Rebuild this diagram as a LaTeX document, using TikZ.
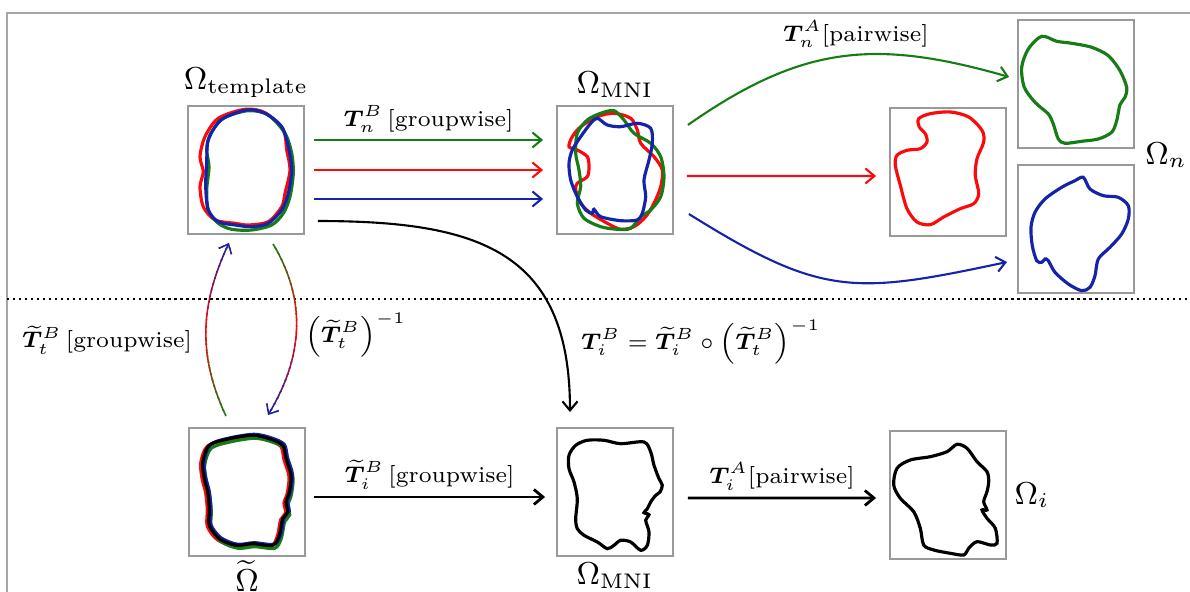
\documentclass[tikz,border=0pt]{standalone}
\usepackage{amsmath}
\usepackage{bm}
\usetikzlibrary{positioning, arrows.meta}
\definecolor{cgreen}{RGB}{22,125,22}
\definecolor{cred}{RGB}{250,10,10}
\definecolor{cblue}{RGB}{20,35,170}

\begin{document}
\begin{tikzpicture}[x=0.01cm, y=-0.01cm,
		box/.style = {rectangle, draw=gray!80, line width=0.5pt, minimum width=1.16cm, minimum height=1.28cm, inner sep=0pt},
		arr/.style = {-{Straight Barb[length=0.9mm, width=1.5mm]}, line width=0.6pt},
		karr/.style = {-{Straight Barb[length=0.9mm, width=1.5mm]}, line width=0.8pt},
		thin arr/.style = {-{Straight Barb[length=0.8mm, width=1.4mm]}, line width=0.45pt},
		shp/.style = {line width=0.9pt},
		om/.style = {font=\small},
		lab/.style = {font=\scriptsize, text=black, inner sep=2pt, scale=0.92, transform shape}
		]
		
		\useasboundingbox (0,0) rectangle (1190,592);
		
		%Frame
		\draw[gray!70, line width=0.6pt]	(7,592) |- (1190,13);
		\draw[densely dotted, line width=0.7pt]	(7,299) -- (1190,299);
		
		%Nodes
		\node[box]	(tmpl)	at	(246,170)	{};
		\node[box]	(mniT)	at	(615,170)	{};
		\node[box]	(outR)	at	(948,172)	{};
		\node[box]	(outG)	at	(1076,84)	{};
		\node[box]	(outB)	at	(1076,229)	{};
		\node[box]	(tmplT)	at	(247,492)	{};
		\node[box]	(mniB)	at	(615,492)	{};
		\node[box]	(outI)	at	(948,495)	{};
		
		%Labels
		\node[om, above=0pt of tmpl, inner sep=2pt]		(lTmpl)		{$\Omega_{\mathrm{template}}$};
		\node[om, above=0pt of mniT, inner sep=2pt]		(lMniT)		{$\Omega_{\mathrm{MNI}}$};
		\node[om]										(lOmN)	at	(1166,155)	{$\Omega_n$};
		\node[om, below=0pt of tmplT, inner sep=1pt]	(lTilde)	{$\widetilde{\Omega}$};
		\node[om, below=0pt of mniB, inner sep=1.5pt]	(lMniB)		{$\Omega_{\mathrm{MNI}}$};
		\node[om, right=0pt of outI, inner sep=2pt]		(lOmI)		{$\Omega_i$};
		\node[lab, anchor=east]	(lTt)		at	(199,340)	{$\widetilde{\bm T}_t^B\,$[groupwise]};
		\node[lab, anchor=west]	(lTtInv)	at	(298,335)	{$\left(\widetilde{\bm T}_t^B\right)^{-1}$};
		\node[lab, anchor=west]	(lTi)		at	(574,342)	{$\bm T_i^B=\widetilde{\bm T}_i^B\circ\left(\widetilde{\bm T}_t^B\right)^{-1}$};
		
		%Shapes
		\begin{scope}[shift={(tmpl.center)}]
			\draw[shp, cred]	plot[smooth cycle] coordinates {(-1,-60.7) (19,-57.3) (37.3,-40) (40.7,-20) (44,0) (39,23.3) (35.7,36.7) (22.3,51.7) (2.3,55) (-11,53.3) (-31,50) (-42.7,36.7) (-46,16.7) (-42.7,1.7) (-46,-13.3) (-41,-33.3) (-27.7,-51.7)};
			\draw[shp, cgreen]	plot[smooth cycle] coordinates {(2.3,-59.3) (22.3,-55) (39,-36.7) (45.7,-16.7) (47.3,3.3) (44,26.7) (37.3,43.3) (25.7,55) (5.7,60) (-14.3,59.3) (-27.7,53.3) (-37.7,40) (-39.3,20) (-37,-3.3) (-39.3,-20) (-36,-35) (-22.7,-51.7)};
			\draw[shp, cblue]	plot[smooth cycle] coordinates {(0.7,-60) (19,-56.7) (35.7,-43.3) (42.3,-23.3) (45.7,0) (42.3,23.3) (35.7,40) (22.3,53.3) (5.7,56.7) (-11,55) (-27.7,51.7) (-37.7,40) (-40.3,16.7) (-39.3,-6.7) (-37.7,-30) (-25,-50)};
		\end{scope}
		\begin{scope}[shift={(mniT.center)}]
			\draw[shp, cred]	plot[smooth cycle] coordinates {(-17.7,-53.3) (-1,-56.7) (15.7,-51.7) (22.3,-40) (25.7,-26.7) (39,-13.3) (47.3,0) (45.7,16.7) (39,33.3) (30.7,46.7) (19,56.7) (5.7,59.3) (-7.7,53.3) (-24.3,43.3) (-34.3,33.3) (-39.3,20) (-37.7,13.3) (-27.7,6.7) (-26,-3.3) (-27.7,-13.3) (-37.7,-20) (-46,-23.3) (-42.7,-33.3) (-34.3,-43.3)};
			\draw[shp, cgreen]	plot[smooth cycle] coordinates {(-14.3,-56.7) (-1,-59.3) (9,-50) (19,-36.7) (35.7,-26.7) (45.7,-13.3) (49,6.7) (45.7,26.7) (35.7,40) (25.7,46.7) (15.7,58.3) (2.3,59.3) (-14.3,56.7) (-31,48.3) (-37.7,33.3) (-34.3,16.7) (-36,0) (-39.3,-16.7) (-37.7,-36.7) (-27.7,-50)};
			\draw[shp, cblue]	plot[smooth cycle] coordinates {(-17.7,-51.7) (-7.7,-45) (5.7,-43.3) (22.3,-46.7) (35.7,-41.7) (37.3,-26.7) (34,-10) (29,10) (30.7,26.7) (27.3,43.3) (22.3,50) (5.7,50.7) (-14.3,46.7) (-21,39.3) (-22.7,43.3) (-29.3,40) (-37.7,26.7) (-44.3,10) (-46,-6.7) (-42.7,-20) (-34.3,-33.3) (-24.3,-46.7)};
		\end{scope}
		\begin{scope}[shift={(outR.center)}]
			\draw[shp, cred]	plot[smooth cycle] coordinates {(-29.3,-53.3) (-17.7,-58.3) (2.3,-60) (20.7,-55) (34,-41.7) (35.7,-30) (29,-13.3) (27.3,3.3) (30.7,21.7) (25.7,31.7) (12.3,36.7) (-4.3,45) (-17.7,52.7) (-31,50) (-41,36.7) (-47.7,13.3) (-52.7,-6.7) (-51,-16.7) (-41,-21.7) (-27.7,-23.3) (-21,-30) (-22.7,-38.3) (-28.7,-45)};
		\end{scope}
		\begin{scope}[shift={(outG.center)}]
			\draw[shp, cgreen]	plot[smooth cycle] coordinates {(-34.3,-47.7) (-19.3,-42.7) (-4.3,-40.7) (15.7,-36.7) (32.3,-28.3) (44,-13.3) (50.7,3.3) (49,13.3) (44,20.7) (40.7,36.7) (35.7,48.3) (22.3,55) (5.7,57.3) (-11,59.3) (-17.7,55) (-22.7,40) (-27.7,30) (-41,18.3) (-51.7,3.3) (-54.3,-16.7) (-47.7,-35)};
		\end{scope}
		\begin{scope}[shift={(outB.center)}]
			\draw[shp, cblue]	plot[smooth cycle] coordinates {(7.3,-51.7) (14,-40) (27.3,-33.3) (42.3,-31.7) (52.3,-23.3) (52.3,-10) (45.7,5) (34,18.3) (22.3,30) (19,46.7) (14,58.3) (5.7,61.7) (-7.7,55) (-21,43.3) (-27.7,31.7) (-31,30) (-34.3,33.3) (-39.3,31.7) (-43.7,16.7) (-45,-1.7) (-41,-16.7) (-31,-30) (-14.3,-41.7) (-1,-48.3)};
		\end{scope}
		\begin{scope}[shift={(tmplT.center)}]
			\foreach \col/\dx/\dy in {cred/-2/1, cgreen/2/3, cblue/1.5/-1, black/0/0}
				\draw[shp, \col, shift={(\dx,\dy)}]	plot[smooth cycle] coordinates {(-37.7,-46.7) (-17.7,-53.3) (5.7,-56.7) (22.3,-53.3) (35.7,-46.7) (39,-33.3) (44,-16.7) (42.3,0) (39,10) (40.7,20) (35.7,26.7) (32.3,43.3) (25.7,53.3) (5.7,51.7) (-11,53.3) (-27.7,46.7) (-37.7,33.3) (-37.7,16.7) (-39.3,0) (-42.7,-13.3) (-44.3,-30)};
		\end{scope}
		\begin{scope}[shift={(mniB.center)}]
			\draw[shp, black]	plot[smooth cycle] coordinates {(-27.7,-51.7) (-11,-51.7) (5.7,-48.3) (29,-50) (35.7,-40) (39,-26.7) (44,-13.3) (47.3,-6.7) (45,0) (40.7,3.3) (35.7,10) (32.3,16.7) (29,20.7) (34,22.7) (30.7,28.3) (34,40) (32.3,53.3) (25.7,58.3) (15.7,50) (5.7,48.3) (-1,53.3) (-7.7,56.7) (-17.7,50) (-31,43.3) (-37.7,36.7) (-39.3,26.7) (-37.7,6.7) (-41,-10) (-46,-23.3) (-46,-36.7) (-39.3,-46.7)};
		\end{scope}
		\begin{scope}[shift={(outI.center)}]
			\draw[shp, black]	plot[smooth cycle] coordinates {(9,-50.7) (19,-46.7) (29,-33.3) (39,-23.3) (40.7,-13.3) (39,-3.3) (35.7,6.7) (39,15) (34,15) (39,23.3) (47.3,33.3) (49,48.3) (42.3,50) (29,46.7) (20.7,53.3) (15.7,60) (2.3,58.3) (-14.3,55) (-24.3,50) (-27.7,33.3) (-34.3,16.7) (-47.7,3.3) (-54.3,-10) (-51,-26.7) (-37.7,-35) (-17.7,-38.3) (-1,-43.3)};
		\end{scope}
		
		%Lines
		\draw[arr, cgreen]	([xshift=0.9mm,yshift=3mm]tmpl.east)	--	node[lab, above]	{$\bm T_n^B\,$[groupwise]}	([xshift=-1.3mm,yshift=3mm]mniT.west);
		\draw[arr, cred]	([xshift=0.9mm]tmpl.east)				--	([xshift=-1.3mm]mniT.west);
		\draw[arr, cblue]	([xshift=0.9mm,yshift=-2.9mm]tmpl.east)	--	([xshift=-1.3mm,yshift=-2.9mm]mniT.west);
		\draw[arr, cgreen]	([xshift=1.4mm,yshift=4.5mm]mniT.east)	to[out=35, in=164, looseness=1.1]	node[lab, pos=0.55, above]	{$\bm T_n^A$[pairwise]}	([xshift=-0.8mm,yshift=0.7mm]outG.west);
		\draw[arr, cred]	([xshift=1.3mm,yshift=-0.6mm]mniT.east)	--	([xshift=-1.3mm,yshift=-0.4mm]outR.west);
		\draw[arr, cblue]	([xshift=1.5mm,yshift=-4.4mm]mniT.east)	to[out=-32, in=192, looseness=1.25]	([xshift=-1mm,yshift=-3.3mm]outB.west);
		\draw[arr, black]	([xshift=1.3mm,yshift=-5.1mm]tmpl.east)	to[out=0, in=90, looseness=1.3]	([xshift=-4.5mm,yshift=1.5mm]mniB.north);
		\draw[karr]	([xshift=0.8mm,yshift=-0.5mm]tmplT.east)	--	node[lab, above]	{$\widetilde{\bm T}_i^B\,$[groupwise]}	([xshift=-1.1mm,yshift=-0.5mm]mniB.west);
		\draw[karr]	([xshift=1.4mm,yshift=-0.6mm]mniB.east)	--	node[lab, above]	{$\bm T_i^A$[pairwise]}	([xshift=-1.3mm,yshift=-0.3mm]outI.west);
		
		% colour runs green -> red -> blue along both arcs
		\foreach \k in {0,...,29}{
			\pgfmathsetmacro\ya{\k==0 ? 180 : 236+6*\k}
			\pgfmathsetmacro\yb{\k==29 ? 450 : 243+6*\k}
			\pgfmathsetmacro\tL{(418-(239+6*\k))/176}
			\pgfmathsetmacro\tR{((239+6*\k)-243)/173}
			\pgfmathtruncatemacro\la{min(100,max(0,200*\tL))}
			\pgfmathtruncatemacro\lb{min(100,max(0,200*\tL-100))}
			\pgfmathtruncatemacro\ra{min(100,max(0,200*\tR))}
			\pgfmathtruncatemacro\rb{min(100,max(0,200*\tR-100))}
			\colorlet{tmpL}{cred!\la!cgreen}
			\colorlet{colL}{cblue!\lb!tmpL}
			\colorlet{tmpR}{cred!\ra!cgreen}
			\colorlet{colR}{cblue!\rb!tmpR}
			\begin{scope}
				\clip (150,\ya) rectangle (350,\yb);
				\draw[thin arr, colL]	([xshift=-2.1mm,yshift=1.1mm]tmplT.north)	to[out=115, in=-115]	([xshift=-1.7mm,yshift=-0.8mm]tmpl.south);
				\draw[thin arr, colR]	([xshift=2.7mm,yshift=-0.9mm]tmpl.south)	to[out=-59, in=59]	([xshift=2.1mm,yshift=1.2mm]tmplT.north);
			\end{scope}
		}
	\end{tikzpicture}
\end{document}
